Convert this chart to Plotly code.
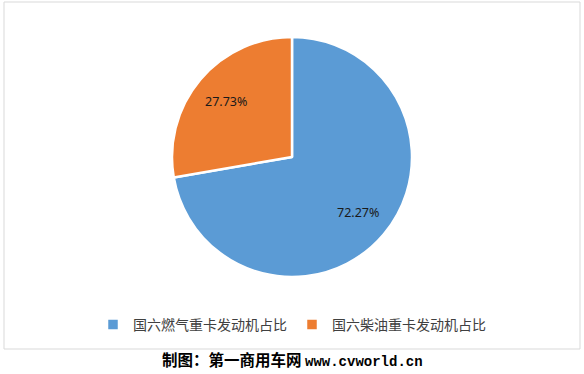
import math
import plotly.graph_objects as go

labels = ["国六燃气重卡发动机占比", "国六柴油重卡发动机占比"]
values = [72.27, 27.73]
text_labels = ["72.27%", "27.73%"]
colors = ["#5B9BD5", "#ED7D31"]

W, H = 584, 374
dom_x = [172/W, 412/W]
dom_y = [1-277/H, 1-37/H]

fig = go.Figure()
fig.add_trace(go.Pie(
    labels=labels, values=values, textinfo="none",
    marker=dict(colors=colors, line=dict(color="white", width=2.5)),
    sort=False, direction="clockwise", rotation=0, hole=0,
    domain=dict(x=dom_x, y=dom_y),
))

# data labels placed along each slice's mid-angle (Excel-style best fit)
cx = (dom_x[0] + dom_x[1]) / 2
cy = (dom_y[0] + dom_y[1]) / 2
rx = (dom_x[1] - dom_x[0]) / 2
ry = (dom_y[1] - dom_y[0]) / 2
total = sum(values)
cum = 0.0
for v, t in zip(values, text_labels):
    mid = (cum + v / 2) / total * 2 * math.pi
    cum += v
    frac = 0.72
    fig.add_annotation(x=cx + frac * rx * math.sin(mid), y=cy + frac * ry * math.cos(mid),
                       xref="paper", yref="paper", showarrow=False, text=t,
                       font=dict(size=12.5, color="#1a1a1a", family="Noto Sans, DejaVu Sans"),
                       xanchor="center", yanchor="middle")

fig.add_shape(type="rect", xref="paper", yref="paper",
              x0=4/W, x1=580/W, y0=1-349/H, y1=1-2/H,
              line=dict(color="#D9D9D9", width=1), fillcolor="rgba(0,0,0,0)", layer="below")

fig.add_annotation(x=0.5, y=1-359/H, xref="paper", yref="paper", showarrow=False,
                   text="<b>制图：第一商用车网</b> <b><span style='font-family:Liberation Mono, DejaVu Sans Mono;font-size:14px'>www.cvworld.cn</span></b>",
                   font=dict(size=15.5, color="#000000", family="Noto Sans CJK SC"),
                   xanchor="center", yanchor="middle")

fig.update_layout(
    width=W, height=H, margin=dict(l=0, r=0, t=0, b=0),
    paper_bgcolor="white", plot_bgcolor="white",
    showlegend=True,
    legend=dict(orientation="h", x=0.5, xanchor="center", y=1-325/H, yanchor="middle",
                font=dict(size=14, color="#404040", family="Noto Sans CJK SC"),
                itemwidth=30, traceorder="normal"),
)

fig.write_html("out.html")
